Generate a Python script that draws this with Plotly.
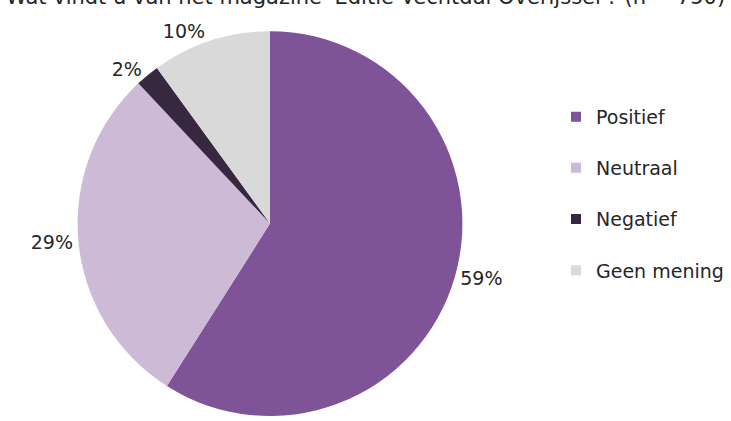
import plotly.graph_objects as go

categories = ["Positief", "Neutraal", "Negatief", "Geen mening"]
values = [59, 29, 2, 10]
colors = ["#7E5398", "#CCBAD7", "#37273F", "#D9D9D9"]
title_text = "Wat vindt u van het magazine 'Editie Vechtdal Overijssel'? (n = 750)"

W, H = 731, 421
FONT = "DejaVu Sans, Verdana, sans-serif"

fig = go.Figure()
fig.add_trace(go.Pie(
    labels=categories,
    values=values,
    marker=dict(colors=colors, line=dict(width=0)),
    sort=False,
    direction="clockwise",
    rotation=0,
    textposition="outside",
    texttemplate="%{percent:.0%}",
    outsidetextfont=dict(size=19, color="#262626", family=FONT),
    domain=dict(x=[66 / W, 474 / W], y=[0, 0.925]),
    showlegend=False,
    hoverinfo="label+percent",
))

for cat, col in zip(categories, colors):
    fig.add_trace(go.Scatter(
        x=[None], y=[None], mode="markers", name=cat,
        legendgroup=cat,
        marker=dict(symbol="square", size=10, color=col),
        hoverinfo="skip",
    ))

fig.add_annotation(
    text=title_text, xref="paper", yref="paper", x=0.5, y=1.0,
    xanchor="center", yanchor="middle", yshift=3, showarrow=False,
    font=dict(size=21, color="#262626", family=FONT),
)

fig.update_layout(
    width=W, height=H,
    margin=dict(l=0, r=0, t=0, b=0),
    paper_bgcolor="white",
    plot_bgcolor="white",
    font=dict(family=FONT, size=19, color="#262626"),
    xaxis=dict(visible=False),
    yaxis=dict(visible=False),
    legend=dict(
        x=556 / W, xanchor="left",
        y=1 - 99 / H, yanchor="top",
        tracegroupgap=23.5,
        font=dict(size=19, color="#262626", family=FONT),
        bgcolor="rgba(0,0,0,0)",
    ),
)

fig.write_html(
    "out.html",
    config={"displayModeBar": False},
    post_script="document.body.style.margin='0';document.body.style.overflow='hidden';",
)
